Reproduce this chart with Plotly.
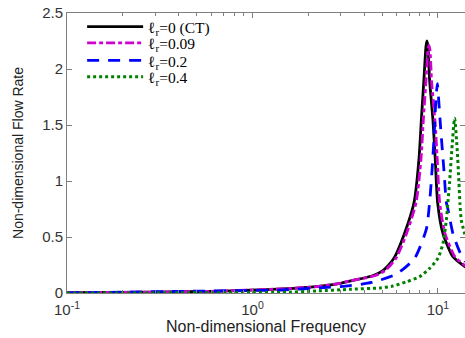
import plotly.graph_objects as go

# ---- data ----
f_black = [0.1, 0.3, 0.6, 0.97, 1.45, 2.2, 2.95, 3.35, 4.45, 5.05, 5.4, 5.84, 6.61, 7.44, 7.9, 8.14, 8.4, 8.62, 8.72, 8.84, 9.02, 9.4, 9.68, 9.96, 10.64, 12.05, 14.1]
v_black = [0.003, 0.008, 0.015, 0.025, 0.036, 0.056, 0.085, 0.107, 0.154, 0.2, 0.245, 0.32, 0.533, 0.81, 1.19, 1.545, 1.9, 2.2, 2.25, 2.2, 1.9, 1.545, 1.19, 0.81, 0.533, 0.324, 0.23]

f_mag = [0.1, 0.3, 0.6, 0.97, 1.45, 2.2, 2.95, 3.35, 4.56, 5.18, 5.53, 5.99, 6.78, 7.63, 8.1, 8.34, 8.61, 8.84, 8.94, 9.06, 9.25, 9.64, 9.92, 10.21, 10.91, 12.35, 14.1]
v_mag = [0.003, 0.008, 0.015, 0.026, 0.037, 0.057, 0.086, 0.108, 0.154, 0.2, 0.245, 0.32, 0.533, 0.81, 1.19, 1.54, 1.88, 2.17, 2.21, 2.17, 1.88, 1.54, 1.19, 0.81, 0.533, 0.324, 0.24]

f_blue = [0.1, 0.97, 1.45, 2.3, 3.18, 4.39, 5.99, 7.49, 8.66, 9.02, 9.3, 9.55, 9.75, 9.93, 10.1, 10.34, 10.56, 10.77, 11.1, 11.32, 12.05, 13.09, 14.1]
v_blue = [0.002, 0.022, 0.027, 0.046, 0.061, 0.094, 0.17, 0.31, 0.57, 0.81, 1.1, 1.42, 1.72, 1.87, 1.72, 1.476, 1.28, 1.1, 0.81, 0.75, 0.53, 0.37, 0.28]

f_green = [0.1, 0.97, 1.45, 2.21, 3.34, 4.85, 5.7, 6.76, 7.97, 9.02, 10.0, 10.64, 11.1, 11.32, 11.56, 11.9, 12.3, 12.69, 12.98, 13.14, 13.37, 14.1]
v_green = [0.0, 0.003, 0.006, 0.018, 0.033, 0.045, 0.062, 0.10, 0.146, 0.22, 0.31, 0.44, 0.65, 0.81, 0.99, 1.29, 1.56, 1.29, 0.99, 0.80, 0.65, 0.5]

names = ["ℓ<sub>r</sub>=0 (CT)", "ℓ<sub>r</sub>=0.09", "ℓ<sub>r</sub>=0.2", "ℓ<sub>r</sub>=0.4"]
colors = ["#000000", "#d000d0", "#0000ff", "#008000"]
dashes = ["solid", "9px,3px,4px,3px", "12px,9px", "3px,3px"]
widths = [2.8, 2.8, 2.8, 3.0]
legend_ids = ["legend", "legend2", "legend3", "legend4"]
legend_y = [0.95, 0.892, 0.829, 0.771]

x_tickvals = [0.1, 1, 10]
x_ticktext = ["10<sup>-1</sup>", "10<sup>0</sup>", "10<sup>1</sup>"]
x_minor = [0.2, 0.3, 0.4, 0.5, 0.6, 0.7, 0.8, 0.9, 2, 3, 4, 5, 6, 7, 8, 9]
y_tickvals = [0, 0.5, 1, 1.5, 2, 2.5]
y_ticktext = ["0", "0.5", "1", "1.5", "2", "2.5"]

fig = go.Figure()
series = [(f_black, v_black), (f_mag, v_mag), (f_blue, v_blue), (f_green, v_green)]
for (fx, vy), nm, c, d, w, lg in zip(series, names, colors, dashes, widths, legend_ids):
    fig.add_trace(go.Scatter(x=fx, y=vy, mode="lines", name=nm, legend=lg,
                             line=dict(color=c, dash=d, width=w, shape="spline", smoothing=0.6)))

legfont = dict(family="Liberation Serif, Times New Roman, serif", size=15.5, color="#000")
for lg, ly in zip(legend_ids, legend_y):
    fig.update_layout({lg: dict(x=0.038, y=ly, xanchor="left", yanchor="middle",
                                font=legfont, itemwidth=56,
                                bgcolor="rgba(255,255,255,0)", borderwidth=0)})

axcol = "#7f7f7f"
tickfont = dict(family="Liberation Sans, Arial, sans-serif", size=15, color="#333333")
fig.update_layout(
    width=465, height=338,
    margin=dict(l=67, r=0, t=13, b=45, autoexpand=False),
    paper_bgcolor="white", plot_bgcolor="white",
    showlegend=True,
    xaxis=dict(type="log", range=[-1, 1.146], tickvals=x_tickvals, ticktext=x_ticktext,
               ticks="inside", ticklen=5, tickcolor=axcol, showline=True, linecolor=axcol,
               linewidth=1, mirror="ticks", showgrid=False, zeroline=False,
               tickfont=tickfont, ticklabelstandoff=3,
               minor=dict(tickvals=x_minor, ticks="inside", ticklen=3, tickcolor=axcol, showgrid=False),
               title=dict(text="Non-dimensional Frequency", standoff=2,
                          font=dict(family="Liberation Sans, Arial, sans-serif", size=16, color="#222"))),
    yaxis=dict(range=[0, 2.5], tickvals=y_tickvals, ticktext=y_ticktext,
               ticks="inside", ticklen=5, tickcolor=axcol, showline=True, linecolor=axcol,
               linewidth=1, mirror="ticks", showgrid=False, zeroline=False,
               tickfont=tickfont,
               title=dict(text="Non-dimensional Flow Rate", standoff=15,
                          font=dict(family="Liberation Sans, Arial, sans-serif", size=14, color="#222"))),
)
fig.write_html("out.html", config={"displayModeBar": False},
               post_script="document.body.style.margin='0';document.body.style.overflow='hidden';")
